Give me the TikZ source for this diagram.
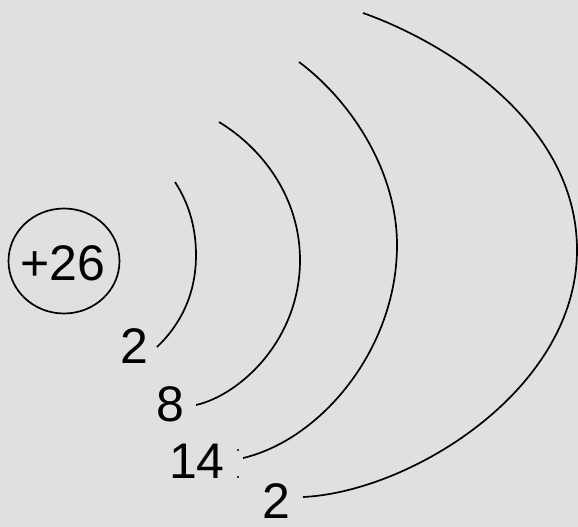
\documentclass[tikz,border=0pt]{standalone}
\usepackage{fontspec}
\setmainfont{Liberation Sans}
\usetikzlibrary{shapes.geometric}
\definecolor{bg}{RGB}{224,224,224}
\begin{document}
\begin{tikzpicture}[x=1pt,y=-1pt,
  shell/.style={line width=1.7pt,black},
  num/.style={font=\fontsize{50}{50}\selectfont,inner sep=0pt,anchor=center},
  nucleus/.style={draw,line width=1.7pt,ellipse,minimum width=111pt,minimum height=105pt,inner sep=0pt}]
\fill[bg] (0,0) rectangle (578,527);
\useasboundingbox (0,0) rectangle (578,527);
\node[nucleus] (nuc) at (64,261) {};
\node[num] (charge) at (63,263) {+26};
% shells
\draw[shell] (175,182) .. controls (190,205) and (196,230) .. (196,255)
                       .. controls (196,295) and (180,325) .. (157,347);
\draw[shell] (219,122) .. controls (265,150) and (300,200) .. (300,260)
                       .. controls (300,340) and (240,395) .. (196,405);
\draw[shell] (299,62) .. controls (350,100) and (397,170) .. (397,245)
                      .. controls (397,350) and (320,440) .. (243,458);
\draw[shell] (363,13) .. controls (440,40) and (577,120) .. (577,250)
                      .. controls (577,390) and (410,492) .. (303,497);
% labels
\node[num] (l1) at (134,346) {2};
\node[num] (l2) at (170,404) {8};
\node[num] (l3) at (197,461) {14};
\node[num] (l4) at (276,501) {2};
\fill (238,450) circle (1.2);
\fill (238,477) circle (1.2);
\end{tikzpicture}
\end{document}
